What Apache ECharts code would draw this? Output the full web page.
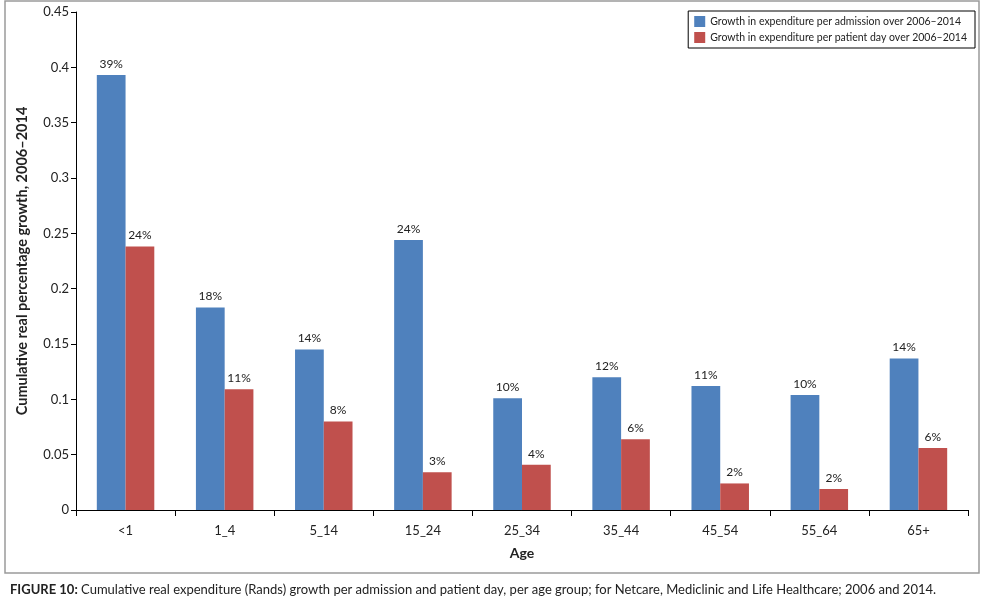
<!DOCTYPE html>
<html>
<head>
<meta charset="utf-8">
<script src="https://cdn.jsdelivr.net/npm/echarts@6/dist/echarts.min.js"></script>
<style>
html,body{margin:0;padding:0;background:#fff;}
#c{width:988px;height:601px;}
</style>
</head>
<body>
<div id="c"></div>
<script>
const categories = ['<1', '1_4', '5_14', '15_24', '25_34', '35_44', '45_54', '55_64', '65+'];
const perAdmission = [0.393, 0.183, 0.145, 0.244, 0.101, 0.120, 0.112, 0.104, 0.137];
const perPatientDay = [0.238, 0.109, 0.080, 0.034, 0.041, 0.064, 0.024, 0.019, 0.056];
const seriesNames = ['Growth in expenditure per admission over 2006\u20132014', 'Growth in expenditure per patient day over 2006\u20132014'];
const yTicks = {min: 0, max: 0.45, interval: 0.05};

const FONT = 'Lato';
const chart = echarts.init(document.getElementById('c'), null, {renderer: 'canvas'});
const labelCfg = {
  show: true, position: 'top', distance: 5,
  color: '#222', fontFamily: FONT, fontSize: 12,
  formatter: p => Math.round(p.value * 100) + '%'
};
chart.setOption({
  animation: false,
  textStyle: {fontFamily: FONT},
  title: {
    left: 5, top: 578,
    text: '{b|FIGURE 10:} Cumulative real expenditure (Rands) growth per admission and patient day, per age group; for Netcare, Mediclinic and Life Healthcare; 2006 and 2014.',
    textStyle: {
      fontFamily: FONT, fontSize: 13, fontWeight: 'normal', color: '#222',
      rich: {b: {fontFamily: FONT, fontSize: 13, fontWeight: 'bold', color: '#222'}}
    }
  },
  graphic: [{
    type: 'rect', silent: true,
    shape: {x: 5, y: 1, width: 974, height: 572},
    style: {fill: 'none', stroke: '#9a9a9a', lineWidth: 1.5}
  }],
  legend: {
    orient: 'vertical', right: 13, top: 11,
    borderColor: '#000', borderWidth: 1,
    padding: [5, 8, 5, 6], itemGap: 5,
    itemWidth: 11, itemHeight: 11, icon: 'rect',
    textStyle: {fontFamily: FONT, fontSize: 10.5, color: '#222'},
    data: seriesNames
  },
  grid: {left: 76, right: 20, top: 12, bottom: 91},
  xAxis: {
    type: 'category', data: categories,
    name: 'Age', nameLocation: 'middle', nameGap: 36,
    nameTextStyle: {fontFamily: FONT, fontSize: 14, fontWeight: 'bold', color: '#222'},
    axisLine: {lineStyle: {color: '#000', width: 1}},
    axisTick: {show: true, alignWithLabel: false, length: 6, lineStyle: {color: '#000'}},
    axisLabel: {color: '#222', fontFamily: FONT, fontSize: 13, margin: 14}
  },
  yAxis: {
    type: 'value', min: yTicks.min, max: yTicks.max, interval: yTicks.interval,
    name: 'Cumulative real percentage growth, 2006\u20132014',
    nameLocation: 'middle', nameGap: 46,
    nameTextStyle: {fontFamily: FONT, fontSize: 14.5, fontWeight: 'bold', color: '#222'},
    axisLine: {show: true, lineStyle: {color: '#000', width: 1}},
    axisTick: {show: true, length: 5, lineStyle: {color: '#000'}},
    axisLabel: {color: '#222', fontFamily: FONT, fontSize: 13, margin: 7},
    splitLine: {show: false}
  },
  series: [
    {name: seriesNames[0], type: 'bar', data: perAdmission, barWidth: '29%', barGap: '0%',
     itemStyle: {color: '#4F81BD'}, label: labelCfg},
    {name: seriesNames[1], type: 'bar', data: perPatientDay, barWidth: '29%', barGap: '0%',
     itemStyle: {color: '#C0504D'}, label: labelCfg}
  ]
});
</script>
</body>
</html>
